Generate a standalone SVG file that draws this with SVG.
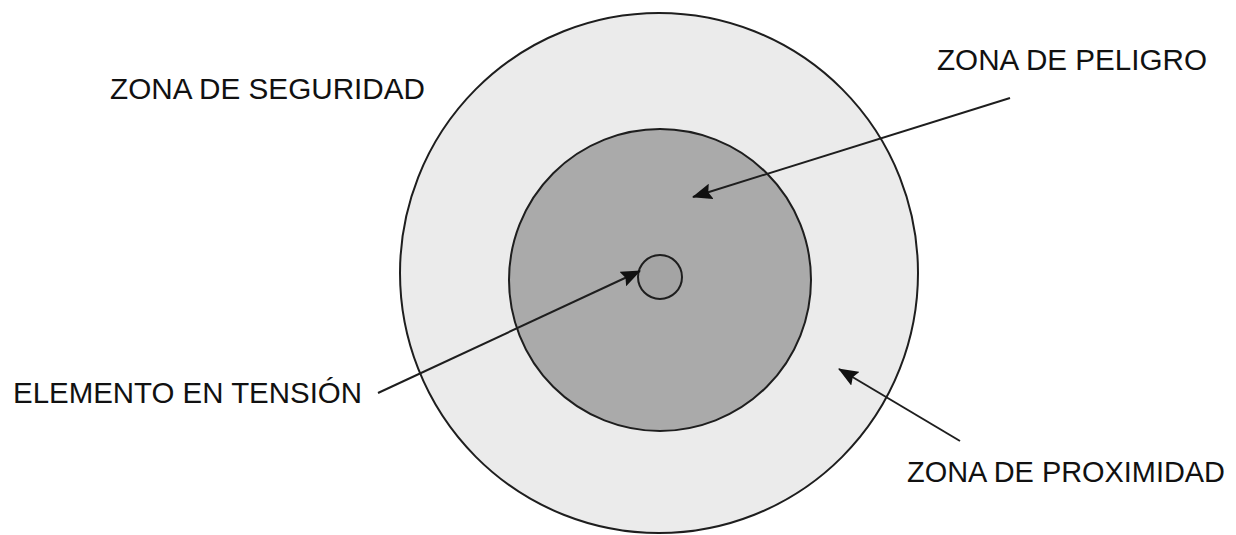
<svg xmlns="http://www.w3.org/2000/svg" width="1236" height="535" viewBox="0 0 1236 535">
<style>
.lbl{font-family:"Liberation Sans",Arial,sans-serif;font-size:30px;fill:#111}
.ring{stroke:#1e1e1e;stroke-width:2}
.conn{stroke:#1e1e1e;stroke-width:2;fill:none}
</style>
<defs>
<marker id="ah" markerUnits="userSpaceOnUse" markerWidth="20" markerHeight="16" refX="19" refY="8" orient="auto">
<path d="M0,0 L20,8 L0,16 L3,8 Z" fill="#111"/>
</marker>
</defs>
<rect width="1236" height="535" fill="#ffffff"/>
<g id="zona-proximidad-ring">
<ellipse class="ring" cx="659" cy="273" rx="259" ry="260" fill="#ebebeb"/>
</g>
<g id="zona-peligro-ring">
<circle class="ring" cx="660" cy="280" r="151" fill="#aaaaaa"/>
</g>
<g id="elemento-tension">
<circle class="ring" cx="660" cy="277" r="22" fill="#a4a4a4"/>
</g>
<g id="connectors">
<line class="conn" x1="1010" y1="98" x2="693" y2="197" marker-end="url(#ah)"/>
<line class="conn" x1="378" y1="393" x2="640" y2="271" marker-end="url(#ah)"/>
<line class="conn" x1="960" y1="441" x2="839" y2="369" marker-end="url(#ah)"/>
</g>
<g id="label-seguridad"><text class="lbl" x="110" y="99" textLength="315" lengthAdjust="spacingAndGlyphs">ZONA DE SEGURIDAD</text></g>
<g id="label-peligro"><text class="lbl" x="937" y="70" textLength="270" lengthAdjust="spacingAndGlyphs">ZONA DE PELIGRO</text></g>
<g id="label-elemento"><text class="lbl" x="13" y="403" textLength="349" lengthAdjust="spacingAndGlyphs">ELEMENTO EN TENSIÓN</text></g>
<g id="label-proximidad"><text class="lbl" x="907" y="482" textLength="318" lengthAdjust="spacingAndGlyphs">ZONA DE PROXIMIDAD</text></g>
</svg>
